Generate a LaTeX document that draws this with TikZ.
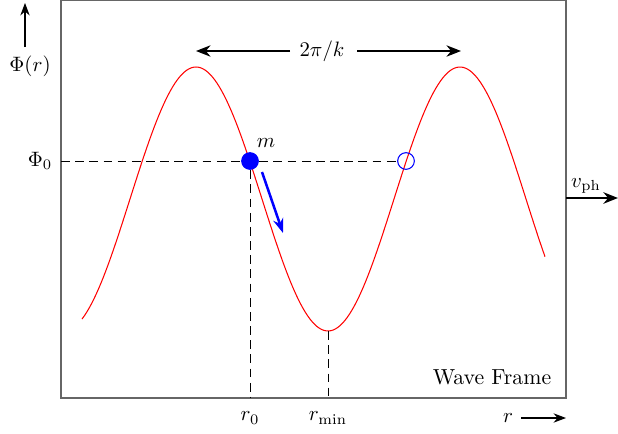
\documentclass[tikz,border=0pt]{standalone}
\usetikzlibrary{arrows.meta}
\begin{document}
\begin{tikzpicture}[x=0.48pt,y=-0.48pt,
  frame/.style={draw=black!60,line width=0.6pt},
  guide/.style={dashed,dash pattern=on 4.2pt off 2.6pt,line width=0.4pt},
  axarrow/.style={-{Stealth[length=6pt,width=4.5pt]},line width=0.5pt},
  bigarrow/.style={-{Stealth[length=7pt,width=5.5pt]},line width=1.1pt},
  lbl/.style={inner sep=1pt,font=\fontsize{10.45}{12}\selectfont}]
\useasboundingbox (0,0) rectangle (618,434);
\draw[frame] (61,0) rectangle (566,398);
% wave
\draw[red,line width=0.5pt] plot[domain=82:545,samples=200] (\x,{199-132*cos(1.363636*(\x-196))});
% coordinates
\coordinate (left0) at (61,161);
\coordinate (bot0) at (250,398);
\coordinate (trough) at (328,331);
\coordinate (botmin) at (328,398);
% particle
\node[circle,fill=blue,inner sep=0pt,minimum size=8.5pt] (m) at (250,161) {};
\node[circle,draw=blue,inner sep=0pt,minimum size=8pt,line width=0.5pt] (o) at (406,161) {};
\draw[guide] (left0) -- (m.west);
\draw[guide] (m.east) -- (o.west);
\draw[guide] (m.south) -- (bot0);
\draw[guide] (trough) -- (botmin);
\coordinate (vs) at (262,172);
\coordinate (ve) at (283,233);
\draw[blue,-{Stealth[length=7pt,width=5pt]},line width=1.2pt] (vs) -- (ve);
\node[lbl] (mlab) at (266,143) {$m$};
% labels
\node[lbl] (phir) at (30,66) {$\Phi(r)$};
\coordinate (phitop) at (25,3);
\draw[axarrow] (25,47) -- (phitop);
\node[lbl] (phi0) at (40,161) {$\Phi_0$};
\node[lbl] (r0) at (250,418) {$r_0$};
\node[lbl] (rmin) at (328,418) {$r_{\min}$};
\node[lbl] (r) at (508,418) {$r$};
\coordinate (rend) at (566,418);
\draw[axarrow] (521,418) -- (rend);
\node[lbl] (vph) at (586,186) {$v_{\rm ph}$};
\coordinate (vstart) at (566,198);
\coordinate (vend) at (618,198);
\draw[bigarrow,line width=1.2pt] (vstart) -- (vend);
\node[lbl] (wf) at (492,377) {Wave Frame};
% wavelength
\node[lbl] (k) at (322,51) {$2\pi/k$};
\coordinate (kl) at (196,51);
\coordinate (kr) at (461,51);
\draw[-{Stealth[length=7pt,width=5.5pt]},line width=0.6pt] (290,51) -- (kl);
\draw[-{Stealth[length=7pt,width=5.5pt]},line width=0.6pt] (357,51) -- (kr);
\end{tikzpicture}
\end{document}
